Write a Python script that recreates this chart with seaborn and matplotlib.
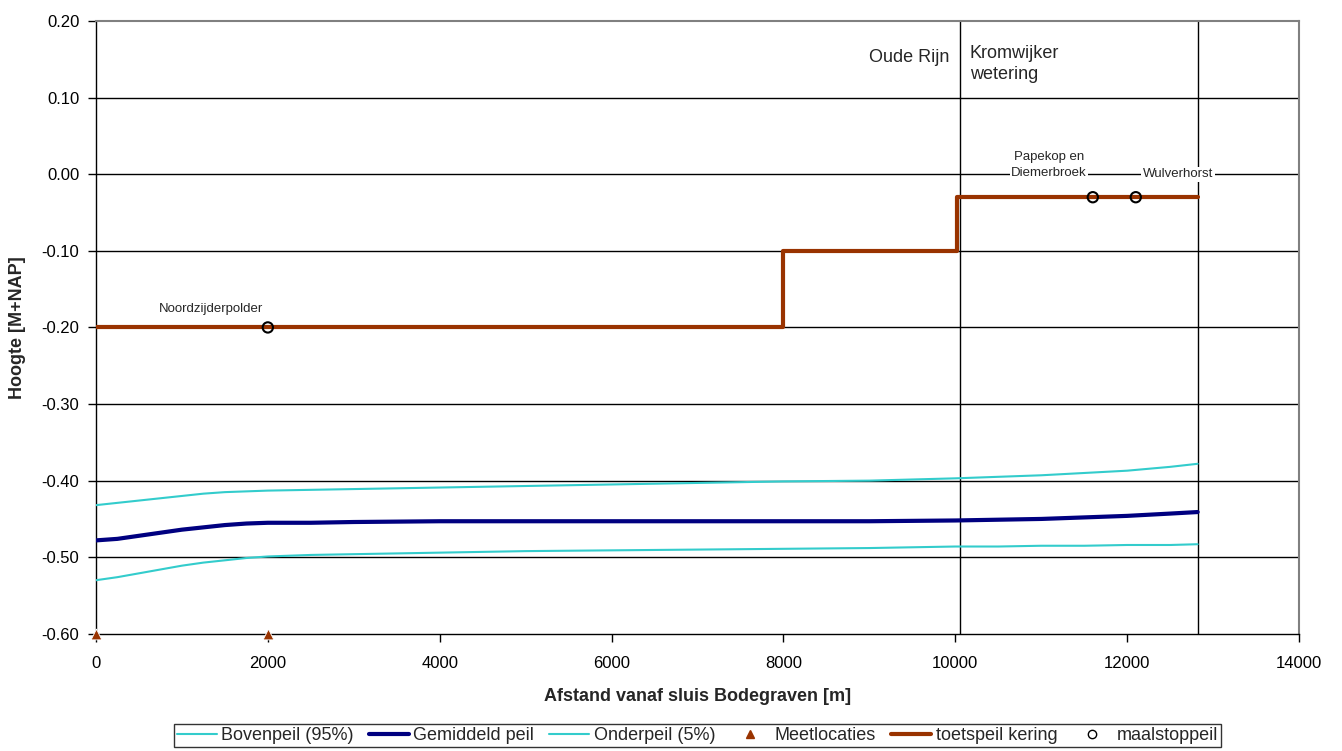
import numpy as np
import pandas as pd
import matplotlib
matplotlib.use("Agg")
import matplotlib.pyplot as plt
from matplotlib.lines import Line2D
import seaborn as sns

# --- data ---
afstand = [0, 250, 500, 750, 1000, 1250, 1500, 1750, 2000, 2500, 3000, 4000, 5000, 6000, 7000,
           8000, 9000, 10000, 10500, 11000, 11500, 12000, 12500, 12820]
bovenpeil = [-0.432, -0.429, -0.426, -0.423, -0.420, -0.417, -0.415, -0.414, -0.413, -0.412,
             -0.411, -0.409, -0.407, -0.405, -0.403, -0.401, -0.400, -0.397, -0.395, -0.393,
             -0.390, -0.387, -0.382, -0.378]
gemiddeld = [-0.478, -0.476, -0.472, -0.468, -0.464, -0.461, -0.458, -0.456, -0.455, -0.455,
             -0.454, -0.453, -0.453, -0.453, -0.453, -0.453, -0.453, -0.452, -0.451, -0.450,
             -0.448, -0.446, -0.443, -0.441]
onderpeil = [-0.530, -0.526, -0.521, -0.516, -0.511, -0.507, -0.504, -0.501, -0.499, -0.497,
             -0.496, -0.494, -0.492, -0.491, -0.490, -0.489, -0.488, -0.486, -0.486, -0.485,
             -0.485, -0.484, -0.484, -0.483]

meet_x = [0, 2000]
meet_y = [-0.60, -0.60]

toets_x = [0, 8000, 10020, 12820]
toets_y = [-0.20, -0.10, -0.03, -0.03]

maal_x = [2000, 11600, 12100]
maal_y = [-0.20, -0.03, -0.03]
maal_namen = ["Noordzijderpolder", "Papekop en\nDiemerbroek", "Wulverhorst"]

grens_x = [10050, 12820]

df = pd.DataFrame({"afstand": afstand, "boven": bovenpeil, "gem": gemiddeld, "onder": onderpeil})

sns.set_style("white")
plt.rcParams["font.family"] = ["Liberation Sans", "DejaVu Sans"]

cyan = "#33CCCC"
navy = "#000080"
bruin = "#993300"

fig = plt.figure(figsize=(13.42, 7.51), dpi=100)
ax = fig.add_axes([0.0715, 0.156, 0.8965, 0.816])

for y in np.arange(-0.5, 0.15, 0.1):
    ax.axhline(y, color="black", lw=1, zorder=1)
for x in grens_x:
    ax.axvline(x, color="black", lw=1, zorder=1)

sns.lineplot(data=df, x="afstand", y="boven", color=cyan, lw=1.5, ax=ax, zorder=3)
sns.lineplot(data=df, x="afstand", y="gem", color=navy, lw=3, ax=ax, zorder=3)
sns.lineplot(data=df, x="afstand", y="onder", color=cyan, lw=1.5, ax=ax, zorder=3)
sns.lineplot(x=toets_x, y=toets_y, color=bruin, lw=3, drawstyle="steps-post", ax=ax, zorder=4)
sns.scatterplot(x=meet_x, y=meet_y, marker="^", color=bruin, s=60, ax=ax, zorder=5, clip_on=False)
sns.scatterplot(x=maal_x, y=maal_y, marker="o", facecolor="none", edgecolor="black",
                linewidth=1.5, s=55, ax=ax, zorder=6)

# labels bij maalstoppeil
ax.text(1340, -0.176, maal_namen[0], fontsize=9.5, ha="center", va="center")
ax.text(11090, 0.012, maal_namen[1], fontsize=9.5, ha="center", va="center", linespacing=1.35,
        bbox=dict(facecolor="white", edgecolor="none", pad=1), zorder=7)
ax.text(12590, 0.0, maal_namen[2], fontsize=9.5, ha="center", va="center",
        bbox=dict(facecolor="white", edgecolor="none", pad=1), zorder=7)

ax.text(grens_x[0] - 120, 0.153, "Oude Rijn", fontsize=13, ha="right", va="center")
ax.text(grens_x[0] + 120, 0.144, "Kromwijker\nwetering", fontsize=13, ha="left", va="center",
        linespacing=1.25)

ax.set_xlim(0, 14000)
ax.set_ylim(-0.60, 0.20)
ax.set_xticks(np.arange(0, 14001, 2000))
yticks = np.round(np.arange(-0.6, 0.201, 0.1), 2)
ax.set_yticks(yticks)
ax.set_yticklabels([f"{v:.2f}".replace("-0.00", "0.00") for v in yticks])
ax.tick_params(axis="both", direction="out", length=6, width=1, colors="black", labelsize=12,
               left=True, bottom=True)
ax.tick_params(axis="y", pad=6)
ax.tick_params(axis="x", pad=10)
ax.set_xlabel("Afstand vanaf sluis Bodegraven [m]", fontsize=13, fontweight="bold", labelpad=12)
ax.set_ylabel("Hoogte [M+NAP]", fontsize=13, fontweight="bold", labelpad=11)

for side in ["left", "bottom"]:
    ax.spines[side].set_color("black")
    ax.spines[side].set_linewidth(1)
for side in ["top", "right"]:
    ax.spines[side].set_color("#808080")
    ax.spines[side].set_linewidth(1.5)

handles = [
    Line2D([], [], color=cyan, lw=1.5),
    Line2D([], [], color=navy, lw=3),
    Line2D([], [], color=cyan, lw=1.5),
    Line2D([], [], color=bruin, lw=0, marker="^", markersize=6),
    Line2D([], [], color=bruin, lw=3),
    Line2D([], [], color="black", lw=0, marker="o", markerfacecolor="none", markersize=6),
]
labels = ["Bovenpeil (95%)", "Gemiddeld peil", "Onderpeil (5%)", "Meetlocaties",
          "toetspeil kering", "maalstoppeil"]
leg = fig.legend(handles, labels, loc="center", bbox_to_anchor=(697.5 / 1342, 1 - 735.5 / 751),
                 ncol=6, fontsize=13, frameon=True, fancybox=False, handlelength=2.2,
                 handletextpad=0.25, columnspacing=0.85, borderpad=0.15, borderaxespad=0)
leg.get_frame().set_edgecolor("black")
leg.get_frame().set_linewidth(1)

fig.savefig("out.png", dpi=100)
